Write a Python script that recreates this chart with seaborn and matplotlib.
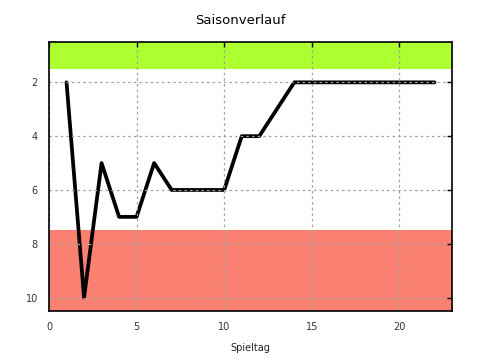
import matplotlib
matplotlib.use("Agg")
import matplotlib.pyplot as plt
import seaborn as sns
import pandas as pd

spieltag = list(range(1, 23))
platz = [2, 10, 5, 7, 7, 5, 6, 6, 6, 6, 4, 4, 3, 2, 2, 2, 2, 2, 2, 2, 2, 2]
x_ticks = [0, 5, 10, 15, 20]
y_ticks = [2, 4, 6, 8, 10]

sns.set_style("white")
plt.rcParams['font.family'] = ['DejaVu Sans']

df = pd.DataFrame({"Spieltag": spieltag, "Platz": platz})

fig = plt.figure(figsize=(4.8, 3.6), dpi=100)
ax = fig.add_axes([49/480, 1-311/360, (452-49)/480, (311-42)/360])

ax.axhspan(0.5, 1.5, color='#adff2f', zorder=0, lw=0)
ax.axhspan(7.5, 10.5, color='#fa8072', zorder=0, lw=0)

sns.lineplot(data=df, x="Spieltag", y="Platz", ax=ax, color='black', lw=2.7, zorder=2)

ax.set_xlim(0, 23)
ax.set_ylim(10.5, 0.5)
ax.set_xticks(x_ticks)
ax.set_yticks(y_ticks)
ax.grid(True, color='#a0a0a0', linestyle=(0, (2, 2.5)), lw=0.9, zorder=3)
ax.set_axisbelow(False)
ax.tick_params(direction='in', length=3.5, width=1, top=True, right=True, labelsize=7, labelcolor='#333333', colors='black')
ax.tick_params(axis='x', pad=8)
ax.tick_params(axis='y', pad=8)
for s in ax.spines.values():
    s.set_color('black')
    s.set_linewidth(1.2)
    s.set_zorder(4)
ax.set_ylabel("")
ax.set_xlabel("Spieltag", fontsize=7)
ax.xaxis.set_label_coords(0.5, -(343 - 311) / 269)
fig.text(0.5, 1-20/360, "Saisonverlauf", ha='center', va='center', fontsize=9.5, color='black')

fig.savefig("out.png", dpi=100)
